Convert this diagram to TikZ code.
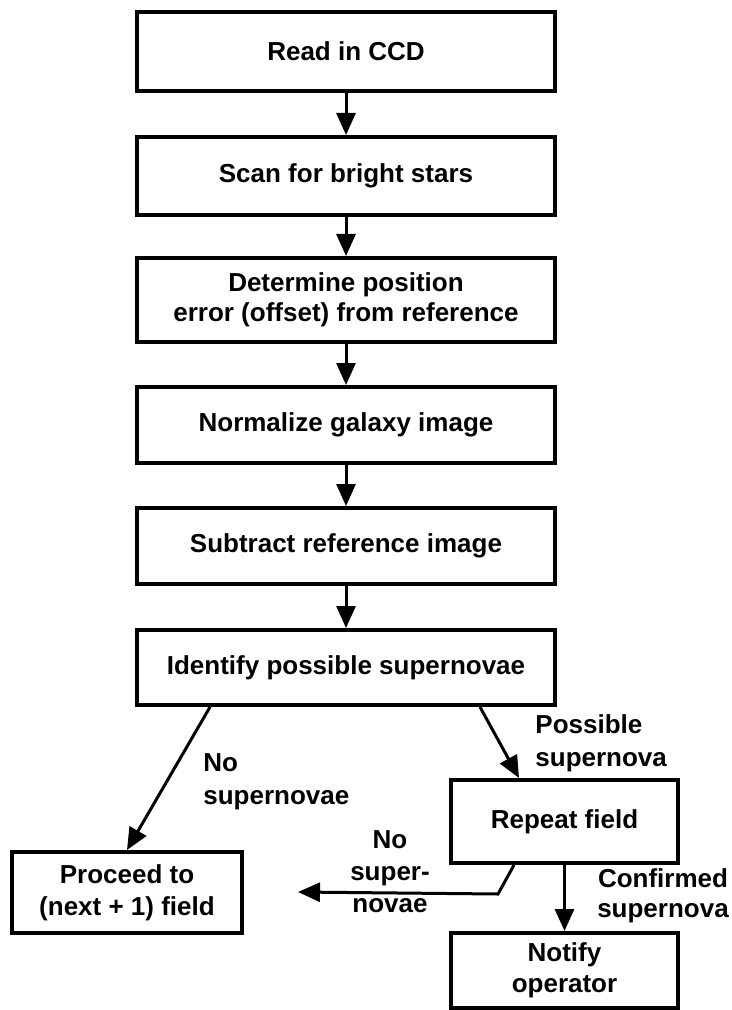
\documentclass[tikz,border=0pt]{standalone}
\usepackage{fontspec}
\setmainfont{Liberation Sans}
\usetikzlibrary{arrows.meta}
\begin{document}
\begin{tikzpicture}[x=0.5pt,y=-0.5pt,
  box/.style={draw, line width=2pt, minimum width=209pt, inner sep=0pt, align=center,
    font=\fontsize{13}{15}\selectfont\bfseries},
  lbl/.style={inner sep=0pt, font=\fontsize{13}{16.5}\selectfont\bfseries},
  arr/.style={line width=1.5pt, -{Triangle[length=11pt,width=9.5pt]}}]
\useasboundingbox (0,0) rectangle (732,1010);
\node[box, minimum height=39.5pt] (b1) at (346,51.5) {Read in CCD};
\node[box, minimum height=39pt] (b2) at (346,176) {Scan for bright stars};
\node[box, minimum height=42pt] (b3) at (346,300) {Determine position\\error (offset) from reference};
\node[box, minimum height=38pt] (b4) at (346,425) {Normalize galaxy image};
\node[box, minimum height=38pt] (b5) at (346,546) {Subtract reference image};
\node[box, minimum height=37.5pt] (b6) at (346,667.5) {Identify possible supernovae};
\node[box, minimum width=115pt, minimum height=40.5pt, font=\fontsize{13}{16}\selectfont\bfseries] (proceed) at (127,892.5) {Proceed to\\(next + 1) field};
\node[box, minimum width=113.5pt, minimum height=41.5pt] (repeat) at (564.5,821.5) {Repeat field};
\node[box, minimum width=113.5pt, minimum height=37.5pt, font=\fontsize{13}{15.5}\selectfont\bfseries] (notify) at (564.5,970.5) {Notify\\operator};
\draw[arr] (b1) -- (b2);
\draw[arr] (b2) -- (b3);
\draw[arr] (b3) -- (b4);
\draw[arr] (b4) -- (b5);
\draw[arr] (b5) -- (b6);
\draw[arr] ([xshift=37.5pt]b6.south west) -- (proceed.north);
\draw[arr] ([xshift=-38.5pt]b6.south east) -- ([xshift=35pt]repeat.north west);
\draw[arr] (repeat) -- (notify);
\coordinate (nstip) at (298,892);
\draw[line width=1.5pt, -{Triangle[length=11pt,width=9.5pt]}] ([xshift=32.5pt]repeat.south west) -- ++(-16,29) -- (nstip);
\node[lbl, anchor=west, align=left] (l1) at (203,781.5) {No\\supernovae};
\node[lbl, anchor=west, align=left] (l2) at (535,743) {Possible\\supernova};
\node[lbl, align=center, font=\fontsize{13}{16}\selectfont\bfseries] (l3) at (390,872) {No\\super-\\novae};
\node[lbl, align=center, font=\fontsize{13}{15}\selectfont\bfseries] (l4) at (663,896) {Confirmed\\supernova};
\end{tikzpicture}
\end{document}
